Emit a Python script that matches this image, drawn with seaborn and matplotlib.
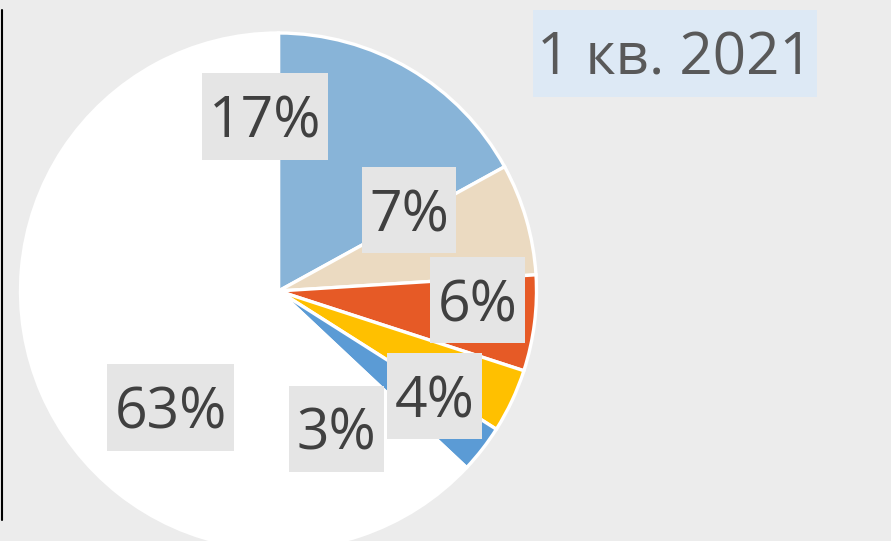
import matplotlib
matplotlib.use("Agg")
import matplotlib.pyplot as plt
import seaborn as sns
from matplotlib.lines import Line2D
from matplotlib.patches import Rectangle

# Data
shares = [17, 7, 6, 4, 3, 63]
labels = ["17%", "7%", "6%", "4%", "3%", "63%"]
colors = ["#88b4d8", "#ebdac1", "#e65a26", "#ffc000", "#5b9bd5", "#ffffff"]
title = "1 кв. 2021"

# label boxes as placed in the original: (left, top, right, bottom) in pixels
label_boxes = [(202, 73, 328, 160), (362, 167, 456, 253), (430, 257, 525, 343),
               (387, 353, 482, 439), (289, 386, 384, 472), (107, 364, 234, 451)]
title_box = (533, 10, 817, 97)

sns.set_style("white")
plt.rcParams['font.family'] = ['Open Sans', 'DejaVu Sans']

W, H = 891, 541
fig = plt.figure(figsize=(W / 100, H / 100), dpi=100)
fig.patch.set_facecolor("#ececec")
ax = fig.add_axes([0, 0, 1, 1])
ax.set_facecolor("#ececec")

ax.pie(shares, colors=colors, startangle=90, counterclock=False,
       center=(278.5, H - 291), radius=258, frame=True,
       wedgeprops=dict(edgecolor="white", linewidth=2.4))


def boxed_text(box, txt, fc, color, size):
    x0, y0, x1, y1 = box
    ax.add_patch(Rectangle((x0, H - y1), x1 - x0, y1 - y0, fc=fc, ec="none", zorder=3))
    cy = (y0 + y1) / 2
    ax.text((x0 + x1) / 2, H - cy - 21, txt, ha="center", va="baseline",
            fontsize=size, color=color, zorder=4)


for lab, box in zip(labels, label_boxes):
    boxed_text(box, lab, "#e5e5e5", "#404040", 41)

boxed_text(title_box, title, "#dde9f5", "#595959", 42)

ax.set_xlim(0, W)
ax.set_ylim(0, H)
ax.set_axis_off()

fig.add_artist(Line2D([1.5 / W, 1.5 / W], [1 - 10 / H, 1 - 520 / H],
                      color="black", linewidth=1.5))

fig.savefig("out.png", dpi=100, facecolor=fig.get_facecolor())
